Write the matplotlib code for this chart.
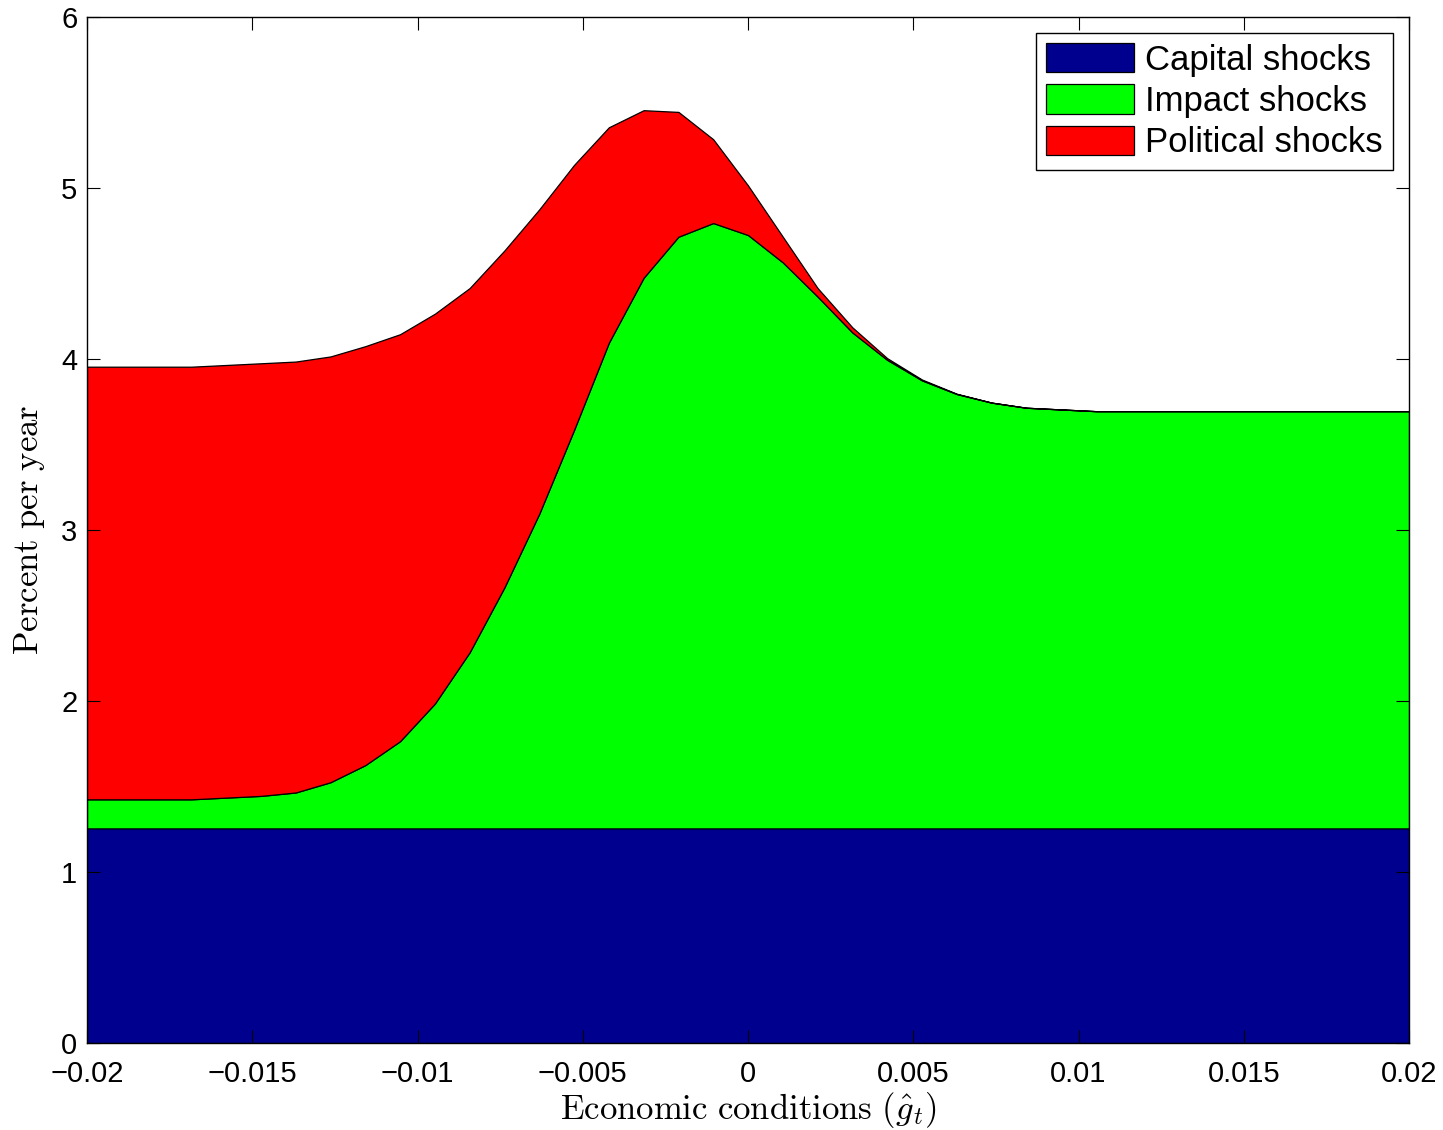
import numpy as np
import matplotlib
matplotlib.use("Agg")
from matplotlib import pyplot as plt

# economic conditions grid (39 points from -0.02 to 0.02)
g_hat = np.linspace(-0.02, 0.02, 39)

capital = [1.255] * 39

impact = [0.17, 0.17, 0.17, 0.17, 0.18, 0.19, 0.21, 0.27, 0.37, 0.51,
          0.73, 1.03, 1.41, 1.84, 2.33, 2.84, 3.22, 3.46, 3.54, 3.47,
          3.31, 3.11, 2.90, 2.74, 2.62, 2.54, 2.49, 2.46, 2.45, 2.44,
          2.44, 2.44, 2.44, 2.44, 2.44, 2.44, 2.44, 2.44, 2.44]

political = [2.53, 2.53, 2.53, 2.53, 2.53, 2.53, 2.52, 2.49, 2.45, 2.38,
             2.28, 2.13, 1.97, 1.78, 1.55, 1.26, 0.98, 0.73, 0.49, 0.29,
             0.15, 0.05, 0.03, 0.01, 0.005, 0.002, 0.0, 0.0, 0.0, 0.0,
             0.0, 0.0, 0.0, 0.0, 0.0, 0.0, 0.0, 0.0, 0.0]

series_names = ["Capital shocks", "Impact shocks", "Political shocks"]
series_colors = ["#00008F", "#00FF00", "#FF0000"]

x_ticks = [-0.02, -0.015, -0.01, -0.005, 0, 0.005, 0.01, 0.015, 0.02]
x_tick_labels = ["\u22120.02", "\u22120.015", "\u22120.01", "\u22120.005", "0",
                 "0.005", "0.01", "0.015", "0.02"]
y_ticks = [0, 1, 2, 3, 4, 5, 6]

plt.rcParams["font.family"] = ["Liberation Sans", "DejaVu Sans"]
plt.rcParams["mathtext.fontset"] = "cm"

fig = plt.figure(figsize=(14.43, 11.30), dpi=100)
ax = fig.add_axes([87 / 1443, 1 - 1043 / 1130, (1409 - 87) / 1443, (1043 - 17) / 1130])

ax.stackplot(g_hat, capital, impact, political, labels=series_names,
             colors=series_colors, edgecolor="black", linewidth=0.9)

ax.set_xlim(-0.02, 0.02)
ax.set_ylim(0, 6)
ax.set_xticks(x_ticks)
ax.set_xticklabels(x_tick_labels)
ax.set_yticks(y_ticks)
ax.tick_params(direction="in", top=True, right=True, length=9.5, width=0.8,
               labelsize=21)
ax.tick_params(axis="x", pad=12)
ax.tick_params(axis="y", pad=7)
for s in ax.spines.values():
    s.set_linewidth(1.0)

ax.set_xlabel(r"$\mathrm{Economic\ conditions\ }(\hat{g}_t)$", fontsize=25, labelpad=2)
ax.set_ylabel(r"$\mathrm{Percent\ per\ year}$", fontsize=25, labelpad=10)

leg = ax.legend(loc="upper right", fontsize=25, frameon=True, fancybox=False,
                edgecolor="black", framealpha=1, borderaxespad=0.45,
                handlelength=2.54, handleheight=0.92, labelspacing=0.22,
                handletextpad=0.32, borderpad=0.3)
leg.get_frame().set_linewidth(1.0)

fig.savefig("out.png", dpi=100)
